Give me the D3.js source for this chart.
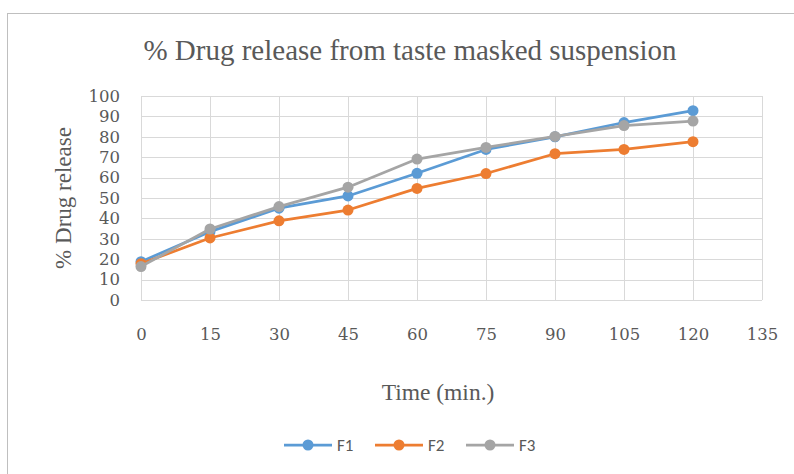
<!DOCTYPE html>
<html>
<head>
<meta charset="utf-8">
<script src="https://cdn.jsdelivr.net/npm/d3@7"></script>
<style>
  html, body { margin: 0; padding: 0; background: #fff; }
  svg { display: block; }
</style>
</head>
<body>
<svg id="chart" width="794" height="474"></svg>
<script>
// Sampling times (min) and cumulative % drug released per formulation
const times = [0, 15, 30, 45, 60, 75, 90, 105, 120];
const f1 = [18.8, 33.5, 45.0, 51.0, 62.1, 73.8, 80.0, 87.0, 92.8];
const f2 = [17.8, 30.4, 38.8, 44.1, 54.7, 62.0, 71.7, 73.8, 77.6];
const f3 = [16.4, 34.8, 45.8, 55.3, 69.1, 74.8, 80.2, 85.5, 87.7];
const seriesNames = ["F1", "F2", "F3"];
const xTicks = [0, 15, 30, 45, 60, 75, 90, 105, 120, 135];
const yTicks = [0, 10, 20, 30, 40, 50, 60, 70, 80, 90, 100];

const colors = ["#5B9BD5", "#ED7D31", "#A5A5A5"];
const series = [f1, f2, f3].map((vals, i) => ({
  name: seriesNames[i],
  color: colors[i],
  points: times.map((t, j) => ({ t, v: vals[j] }))
}));

const svg = d3.select("#chart");
const serif = "'Liberation Serif', 'Times New Roman', serif";
const tickFont = "'DejaVu Serif', Cambria, serif";
const sans = "Carlito, 'Liberation Sans', Arial, sans-serif";
const textColor = "#595959";

// outer chart frame
svg.append("rect")
  .attr("x", 7.5).attr("y", 13.5)
  .attr("width", 800).attr("height", 480)
  .attr("fill", "#fff").attr("stroke", "#bfbfbf").attr("stroke-width", 1);

const x = d3.scaleLinear().domain([0, 135]).range([141, 762]);
const y = d3.scaleLinear().domain([0, 100]).range([300, 96]);

// gridlines
const grid = svg.append("g").attr("stroke", "#d9d9d9").attr("stroke-width", 1);
grid.selectAll("line.h").data(yTicks).join("line")
  .attr("class", "h")
  .attr("x1", x(0)).attr("x2", x(135))
  .attr("y1", d => Math.round(y(d)) + 0.5).attr("y2", d => Math.round(y(d)) + 0.5);
grid.selectAll("line.v").data(xTicks).join("line")
  .attr("class", "v")
  .attr("y1", y(0)).attr("y2", y(100))
  .attr("x1", d => Math.round(x(d)) + 0.5).attr("x2", d => Math.round(x(d)) + 0.5);

// axes (labels only, styled like the office chart)
const yAxis = svg.append("g")
  .attr("transform", `translate(${x(0) - 17},0)`)
  .call(d3.axisLeft(y).tickValues(yTicks).tickSize(0).tickPadding(4));
yAxis.select(".domain").remove();
yAxis.selectAll("text")
  .attr("font-family", tickFont).attr("font-size", 16.5).attr("fill", textColor);

const xAxis = svg.append("g")
  .attr("transform", `translate(0,${y(0) + 28})`)
  .call(d3.axisBottom(x).tickValues(xTicks).tickSize(0).tickPadding(0));
xAxis.select(".domain").remove();
xAxis.selectAll("text")
  .attr("font-family", tickFont).attr("font-size", 16.5).attr("fill", textColor);

// series lines and markers
const line = d3.line().x(d => x(d.t)).y(d => y(d.v));
const sg = svg.append("g").selectAll("g").data(series).join("g");
sg.append("path")
  .attr("d", d => line(d.points))
  .attr("fill", "none")
  .attr("stroke", d => d.color)
  .attr("stroke-width", 2.75)
  .attr("stroke-linejoin", "round");
sg.selectAll("circle").data(d => d.points.map(p => ({ ...p, color: d.color }))).join("circle")
  .attr("cx", d => x(d.t)).attr("cy", d => y(d.v))
  .attr("r", 5.5).attr("fill", d => d.color);

// titles
svg.append("text")
  .attr("x", 410).attr("y", 60)
  .attr("text-anchor", "middle")
  .attr("font-family", serif).attr("font-size", 29).attr("fill", textColor)
  .text("% Drug release from taste masked suspension");

svg.append("text")
  .attr("transform", "translate(71,198) rotate(-90)")
  .attr("text-anchor", "middle")
  .attr("font-family", serif).attr("font-size", 23).attr("fill", textColor)
  .text("% Drug release");

svg.append("text")
  .attr("x", 438).attr("y", 400)
  .attr("text-anchor", "middle")
  .attr("font-family", serif).attr("font-size", 23.5).attr("fill", textColor)
  .text("Time (min.)");

// legend
const legendX = [284, 375, 466];
const lg = svg.append("g").selectAll("g").data(series).join("g")
  .attr("transform", (d, i) => `translate(${legendX[i]},445)`);
lg.append("line")
  .attr("x1", 0).attr("x2", 48).attr("y1", 0).attr("y2", 0)
  .attr("stroke", d => d.color).attr("stroke-width", 2.75);
lg.append("circle").attr("cx", 24).attr("cy", 0).attr("r", 5.5).attr("fill", d => d.color);
lg.append("text")
  .attr("x", 53).attr("y", 6)
  .attr("font-family", sans).attr("font-size", 17).attr("fill", textColor)
  .text(d => d.name);
</script>
</body>
</html>
